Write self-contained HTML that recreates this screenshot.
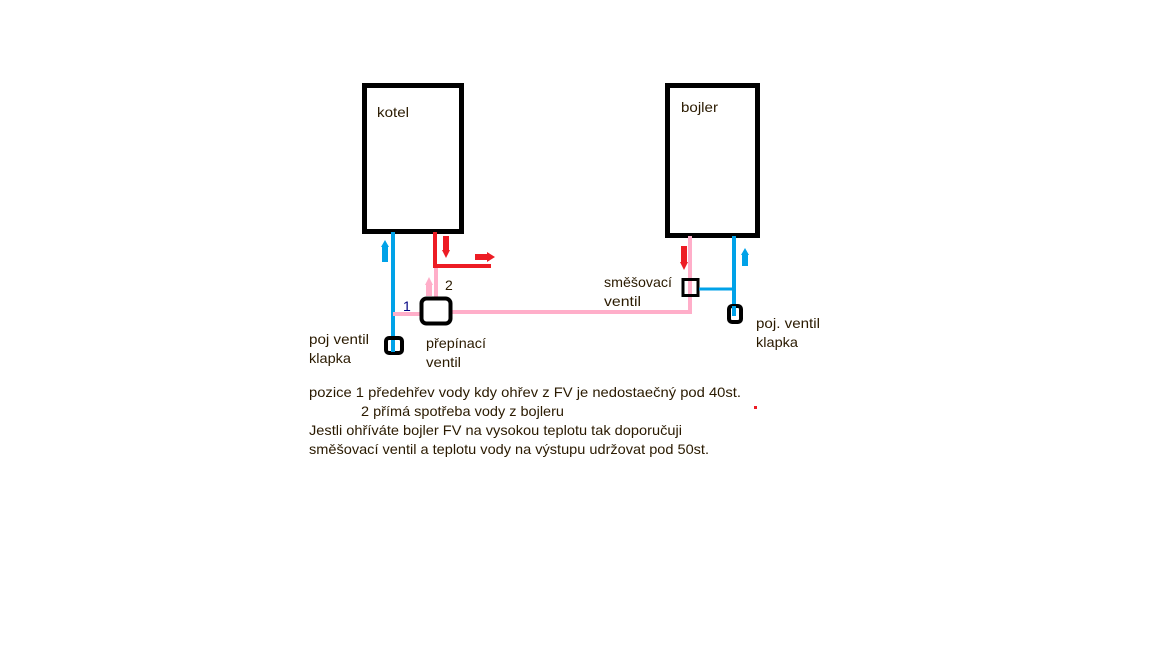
<!DOCTYPE html>
<html><head><meta charset="utf-8"><style>
html,body{margin:0;padding:0;background:#fff;}
svg{display:block;}
text{font-family:"Liberation Sans",sans-serif;font-size:14px;fill:#2a1a00;}
</style></head><body>
<svg width="1152" height="648" viewBox="0 0 1152 648" xmlns="http://www.w3.org/2000/svg">
<rect width="1152" height="648" fill="#fff"/>
<rect x="364.5" y="85.5" width="97" height="146" fill="none" stroke="#000" stroke-width="5"/>
<rect x="667.5" y="85.5" width="90" height="150" fill="none" stroke="#000" stroke-width="5"/>
<text x="377" y="117" textLength="32" lengthAdjust="spacingAndGlyphs">kotel</text>
<text x="681" y="112" textLength="37" lengthAdjust="spacingAndGlyphs">bojler</text>
<line x1="393" y1="232" x2="393" y2="352" stroke="#00a2e8" stroke-width="4"/>
<line x1="435" y1="232" x2="435" y2="268" stroke="#ed1c24" stroke-width="4"/>
<line x1="435" y1="266" x2="491" y2="266" stroke="#ed1c24" stroke-width="4"/>
<line x1="436" y1="268" x2="436" y2="300" stroke="#ffaec9" stroke-width="4"/>
<line x1="393" y1="314" x2="421" y2="314" stroke="#ffaec9" stroke-width="4"/>
<line x1="452" y1="312" x2="692" y2="312" stroke="#ffaec9" stroke-width="4"/>
<line x1="690" y1="236" x2="690" y2="314" stroke="#ffaec9" stroke-width="4"/>
<polygon points="385,240 389,247 388,247 388,262 382,262 382,247 381,247" fill="#00a2e8"/>
<polygon points="446,258 450,250 449,250 449,236 443,236 443,250 442,250" fill="#ed1c24"/>
<polygon points="495,257 487,252 487,254 475,254 475,260 487,260 487,262" fill="#ed1c24"/>
<polygon points="429,277 433,285 432,285 432,296 426,296 426,285 425,285" fill="#ffaec9"/>
<polygon points="684,270 688,262 687,262 687,246 681,246 681,262 680,262" fill="#ed1c24"/>
<polygon points="745,248 749,255 748,255 748,266 742,266 742,255 741,255" fill="#00a2e8"/>
<rect x="421.5" y="298.5" width="29" height="25" rx="5" fill="#fff" stroke="#000" stroke-width="4"/>
<rect x="386" y="338" width="16" height="15" rx="3" fill="none" stroke="#000" stroke-width="4"/>
<line x1="393" y1="340" x2="393" y2="352" stroke="#00a2e8" stroke-width="4"/>
<rect x="683" y="279.5" width="15" height="16" fill="#fff" stroke="#000" stroke-width="3"/>
<line x1="690" y1="281" x2="690" y2="294" stroke="#ffaec9" stroke-width="4"/>
<line x1="699" y1="289" x2="734" y2="289" stroke="#00a2e8" stroke-width="3"/>
<line x1="734" y1="236" x2="734" y2="316" stroke="#00a2e8" stroke-width="4"/>
<rect x="729" y="306" width="12" height="16" rx="3" fill="none" stroke="#000" stroke-width="4"/>
<line x1="734" y1="306" x2="734" y2="316" stroke="#00a2e8" stroke-width="4"/>
<text x="445" y="290">2</text>
<text x="403" y="311" style="fill:#000080">1</text>
<text x="309" y="344" textLength="60" lengthAdjust="spacingAndGlyphs">poj ventil</text>
<text x="309" y="363" textLength="42" lengthAdjust="spacingAndGlyphs">klapka</text>
<text x="426" y="348" textLength="60" lengthAdjust="spacingAndGlyphs">přepínací</text>
<text x="426" y="367" textLength="35" lengthAdjust="spacingAndGlyphs">ventil</text>
<text x="604" y="287" textLength="68" lengthAdjust="spacingAndGlyphs">směšovací</text>
<text x="604" y="306" textLength="37" lengthAdjust="spacingAndGlyphs">ventil</text>
<text x="756" y="328" textLength="64" lengthAdjust="spacingAndGlyphs">poj. ventil</text>
<text x="756" y="347" textLength="42" lengthAdjust="spacingAndGlyphs">klapka</text>
<text x="309" y="397" textLength="432" lengthAdjust="spacingAndGlyphs">pozice 1 předehřev vody kdy ohřev z FV je nedostaečný pod 40st.</text>
<text x="361" y="416" textLength="203" lengthAdjust="spacingAndGlyphs">2 přímá spotřeba vody z bojleru</text>
<text x="309" y="435" textLength="373" lengthAdjust="spacingAndGlyphs">Jestli ohříváte bojler FV na vysokou teplotu tak doporučuji</text>
<text x="309" y="454" textLength="400" lengthAdjust="spacingAndGlyphs">směšovací ventil a teplotu vody na výstupu udržovat pod 50st.</text>
<rect x="754" y="406" width="3" height="3" fill="#ed1c24"/>
</svg>
</body></html>
